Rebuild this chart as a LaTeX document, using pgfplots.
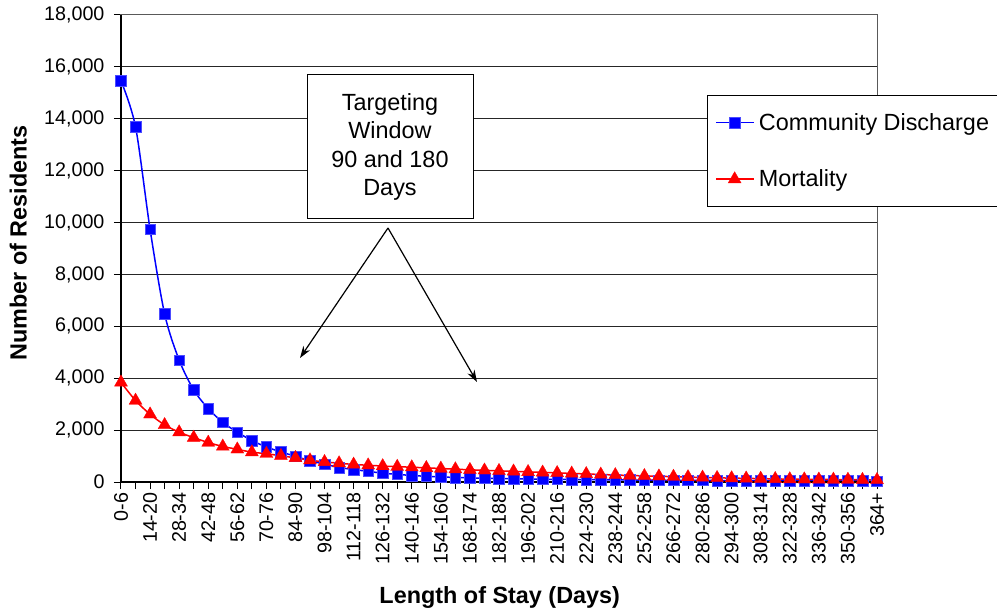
\documentclass[border=0pt]{standalone}
\usepackage{pgfplots}
\pgfplotsset{compat=1.18}
\usepackage{fontspec}
\setmainfont{Liberation Sans}
\usetikzlibrary{arrows.meta}

\pgfplotstableread{
x y
0 15460
1 13690
2 9740
3 6480
4 4700
5 3550
6 2830
7 2300
8 1920
9 1600
10 1350
11 1160
12 990
13 820
14 690
15 560
16 480
17 410
18 340
19 295
20 250
21 220
22 195
23 175
24 160
25 145
26 135
27 125
28 115
29 108
30 100
31 95
32 90
33 85
34 80
35 76
36 72
37 68
38 65
39 62
40 60
41 58
42 56
43 54
44 52
45 50
46 48
47 46
48 44
49 42
50 40
51 38
52 36
}\community

\pgfplotstableread{
x y
0 3840
1 3140
2 2610
3 2200
4 1920
5 1710
6 1520
7 1370
8 1260
9 1150
10 1090
11 1010
12 930
13 840
14 775
15 725
16 675
17 645
18 615
19 590
20 570
21 545
22 520
23 495
24 470
25 450
26 430
27 410
28 390
29 370
30 350
31 330
32 310
33 290
34 270
35 250
36 235
37 220
38 205
39 190
40 175
41 160
42 150
43 140
44 130
45 120
46 110
47 105
48 100
49 95
50 90
51 85
52 80
}\mortality

\begin{document}
\begin{tikzpicture}
\useasboundingbox (0,0) rectangle (997pt,611pt);
\begin{axis}[
  at={(121pt,129pt)}, anchor=south west,
  scale only axis, width=756pt, height=467pt,
  xmin=0, xmax=52, ymin=0, ymax=18000,
  clip=false,
  axis line style={draw=gray!70!black, line width=1pt},
  xtick={0,...,52},
  xticklabels={0-6,{},14-20,{},28-34,{},42-48,{},56-62,{},70-76,{},84-90,{},98-104,{},112-118,{},126-132,{},140-146,{},154-160,{},168-174,{},182-188,{},196-202,{},210-216,{},224-230,{},238-244,{},252-258,{},266-272,{},280-286,{},294-300,{},308-314,{},322-328,{},336-342,{},350-356,{},364+},
  ytick={0,2000,...,18000},
  scaled y ticks=false,
  /pgf/number format/.cd, 1000 sep={,}, assume math mode=true, /pgfplots/.cd,
  tick pos=left,
  tick align=outside,
  major tick length=7pt,
  tick style={black, line width=1pt},
  ymajorgrids,
  grid style={black!85, line width=1pt},
  tick label style={font=\fontsize{19.7}{20}\selectfont},
  xticklabel style={rotate=90, anchor=east},
  yticklabel style={xshift=-6pt},
  xlabel={\textbf{Length of Stay (Days)}},
  ylabel={\textbf{Number of Residents}},
  label style={font=\fontsize{23.4}{26}\selectfont},
  xlabel style={at={(axis description cs:0.501,-0.248)}, anchor=center},
  ylabel style={at={(axis description cs:-0.136,0.512)}, anchor=center},
  legend style={at={(rel axis cs:0.775,0.8287)}, anchor=north west,
    draw=black, line width=1pt, fill=white,
    font=\fontsize{23.4}{26}\selectfont,
    inner xsep=8pt, inner ysep=16pt, row sep=34pt, column sep=3pt,
    legend cell align=left},
  legend image code/.code={
    \draw[mark repeat=2, mark phase=2] plot coordinates {(0pt,0pt) (18.5pt,0pt) (37pt,0pt)};},
]
\addplot[blue, line width=1.5pt, smooth, mark=square*, mark size=5.3pt,
  mark options={fill=blue, draw=blue!70!white, line width=0.5pt}] table[x=x,y=y] {\community};
\addlegendentry{Community Discharge}
\addplot[red, line width=1.5pt, smooth, mark=triangle*, mark size=7.5pt,
  mark options={fill=red, draw=red, line width=0.3pt}] table[x=x,y=y] {\mortality};
\addlegendentry{Mortality}
\draw[black, line width=1.3pt] (rel axis cs:0,1) -- (rel axis cs:0,0) -- (rel axis cs:1,0);
\end{axis}
\node[draw=black, line width=1pt, fill=white, align=center, minimum width=166pt, minimum height=144pt,
  font=\fontsize{23.4}{28.5}\selectfont] at (390pt,464pt) {Targeting\\Window\\90 and 180\\Days};
\draw[line width=1.2pt, -{Stealth[length=12pt,width=8pt]}] (388pt,383pt) -- (300pt,253pt);
\draw[line width=1.2pt, -{Stealth[length=12pt,width=8pt]}] (388pt,383pt) -- (477pt,229pt);
\end{tikzpicture}
\end{document}
